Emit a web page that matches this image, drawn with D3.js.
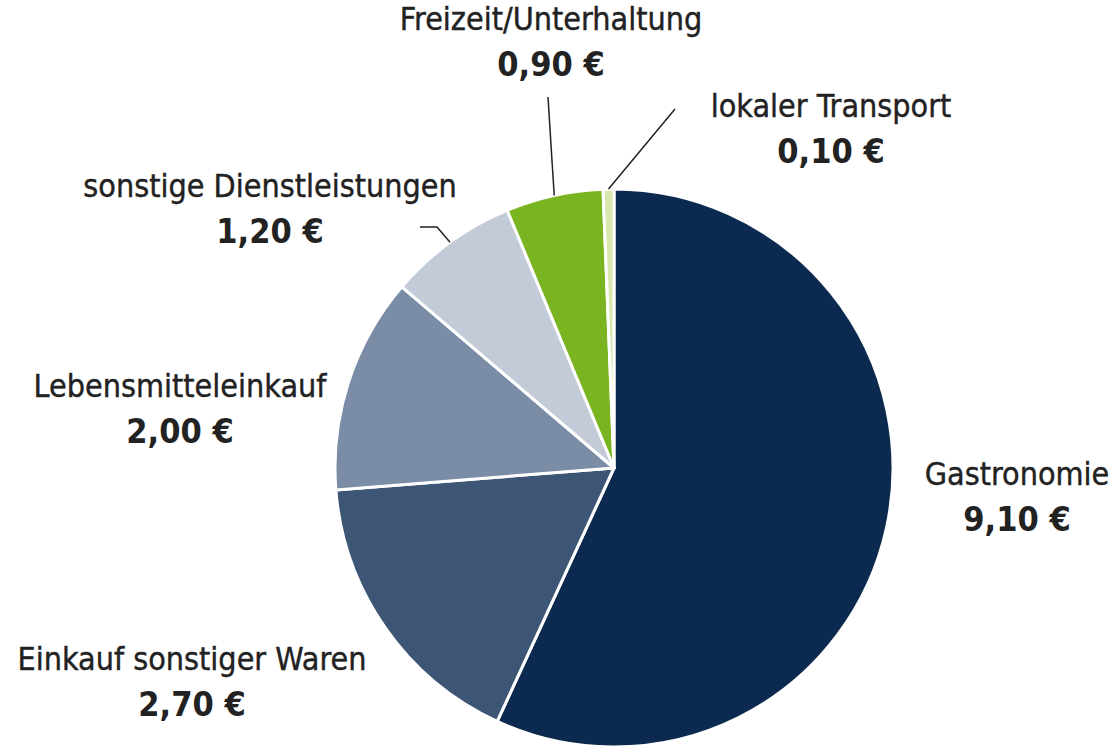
<!DOCTYPE html>
<html>
<head>
<meta charset="utf-8">
<script src="https://cdn.jsdelivr.net/npm/d3@7"></script>
<style>
  body { margin: 0; background: #fff; }
  text { font-family: "DejaVu Sans Condensed", "DejaVu Sans", sans-serif; font-stretch: condensed; fill: #222; }
</style>
</head>
<body>
<div id="chart"></div>
<script>
var categories = ["Gastronomie", "Einkauf sonstiger Waren", "Lebensmitteleinkauf",
                  "sonstige Dienstleistungen", "Freizeit/Unterhaltung", "lokaler Transport"];
var values = [9.10, 2.70, 2.00, 1.20, 0.90, 0.10];
var valueLabels = ["9,10 €", "2,70 €", "2,00 €", "1,20 €", "0,90 €", "0,10 €"];
var colors = ["#0c2a4f", "#3e5676", "#7a8ca6", "#c4cbd8", "#7ab521", "#d8e9b0"];

var w = 1114, h = 752;
var cx = 614, cy = 468, radius = 279;

// label anchor (centre x, baseline of the name line)
var labelPos = [[1017, 485], [192, 670], [180, 397], [270, 197], [551, 30], [831, 117]];
// end of leader line, null if no leader
var leaderEnd = [null, null, null, [[437, 227], [420, 227]], [[548, 97]], [[675, 109]]];

var svg = d3.select("#chart").append("svg").attr("width", w).attr("height", h);

var pie = d3.pie().sort(null).value(d => d);
var arcs = pie(values);
var arc = d3.arc().innerRadius(0).outerRadius(radius);

var g = svg.append("g").attr("transform", "translate(" + cx + "," + cy + ")");

g.selectAll("path")
    .data(arcs)
    .enter()
    .append("path")
    .attr("d", arc)
    .attr("fill", (d, i) => colors[i])
    .attr("stroke", "#fff")
    .attr("stroke-width", 3)
    .attr("stroke-linejoin", "round");

// leader lines start on the pie edge at the middle of the slice
arcs.forEach((d, i) => {
    if (!leaderEnd[i]) return;
    var a = (d.startAngle + d.endAngle) / 2;
    var start = [cx + radius * Math.sin(a), cy - radius * Math.cos(a)];
    var pts = [start].concat(leaderEnd[i]);
    svg.append("path")
        .attr("d", d3.line()(pts))
        .attr("fill", "none")
        .attr("stroke", "#222")
        .attr("stroke-width", 1.5);
});

categories.forEach((c, i) => {
    var t = svg.append("text")
        .attr("x", labelPos[i][0])
        .attr("y", labelPos[i][1])
        .attr("text-anchor", "middle");
    t.append("tspan")
        .attr("x", labelPos[i][0])
        .style("font-size", "32px")
        .style("stroke", "#222")
        .style("stroke-width", 0.4)
        .text(c);
    t.append("tspan")
        .attr("x", labelPos[i][0])
        .attr("dy", 46)
        .style("font-size", "34px")
        .style("font-weight", "bold")
        .text(valueLabels[i]);
});
</script>
</body>
</html>
